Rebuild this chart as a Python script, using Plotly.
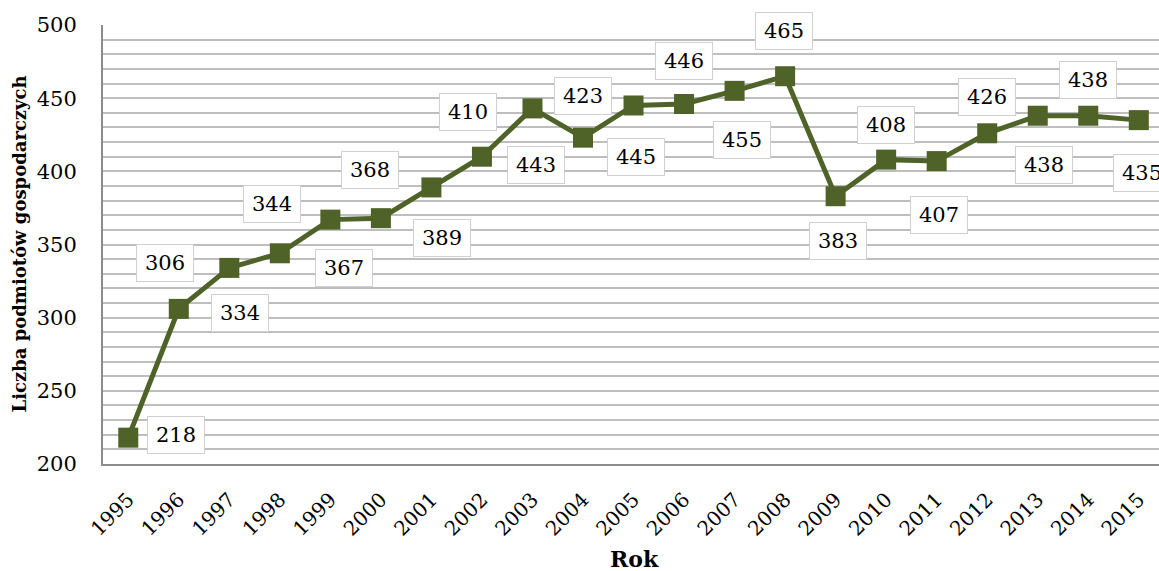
import plotly.graph_objects as go

years = list(range(1995, 2016))
values = [218, 306, 334, 344, 367, 368, 389, 410, 443, 423, 445, 446, 455, 465,
          383, 408, 407, 426, 438, 438, 435]
tick_labels = [str(y) for y in years]

# label offsets in pixels (dx right, dy down) relative to each point
label_dx = [48, -14, 11, -8, 14, -11, 11, -14, 4, 0, 2, 0, 7, -1, 2, 0, 2, 0, 6, 0, 3]
label_dy = [-3, -46, 45, -49, 48, -48, 51, -45, 57, -42, 52, -43, 49, -45, 45, -35, 54, -36, 49, -36, 53]

FONT = "DejaVu Serif"
GREEN = "#4F6228"

fig = go.Figure()
fig.add_trace(go.Scatter(
    x=years, y=values, mode="lines+markers",
    line=dict(color=GREEN, width=5),
    marker=dict(symbol="square", size=20, color=GREEN),
    cliponaxis=False, showlegend=False,
))

for x, v, dx, dy in zip(years, values, label_dx, label_dy):
    fig.add_annotation(
        x=x, y=v, text=str(v), showarrow=False,
        xshift=dx, yshift=-dy,
        font=dict(family=FONT, size=21, color="black"),
        bgcolor="white", bordercolor="#D0D0D0", borderwidth=1,
        width=54, height=34,
    )

# axis titles
fig.add_annotation(
    xref="paper", yref="paper", x=0.5, y=0, yanchor="middle",
    yshift=-95, xshift=3, showarrow=False,
    text="<b>Rok</b>", font=dict(family=FONT, size=22, color="black"),
)
fig.add_annotation(
    xref="paper", yref="paper", x=0, y=0.5, xanchor="center",
    xshift=-84, yshift=0, showarrow=False, textangle=-90,
    text="<b>Liczba podmiotów gospodarczych</b>",
    font=dict(family=FONT, size=18, color="black"),
)

fig.update_layout(
    width=1159, height=571,
    margin=dict(l=103, r=0, t=25, b=107),
    paper_bgcolor="white", plot_bgcolor="white",
    font=dict(family=FONT, color="black"),
    xaxis=dict(
        tickmode="array", tickvals=years, ticktext=tick_labels,
        range=[1994.5, 2015.4], tickangle=-45,
        tickfont=dict(family=FONT, size=20),
        showgrid=False, showline=True, linecolor="#8C8C8C", linewidth=2,
        ticks="", ticklabelstandoff=14, zeroline=False, automargin=False,
    ),
    yaxis=dict(
        range=[200, 500], tickvals=[200, 250, 300, 350, 400, 450, 500],
        tickfont=dict(family=FONT, size=21),
        showgrid=False, showline=True, linecolor="#8C8C8C", linewidth=2,
        ticks="", ticklabelstandoff=20, zeroline=False, automargin=False,
        minor=dict(dtick=10, showgrid=True, gridcolor="#BEBEBE", gridwidth=1.6),
    ),
)

fig.write_html(
    "out.html",
    config={"displayModeBar": False},
    post_script="document.body.style.margin='0';document.body.style.overflow='hidden';",
)
